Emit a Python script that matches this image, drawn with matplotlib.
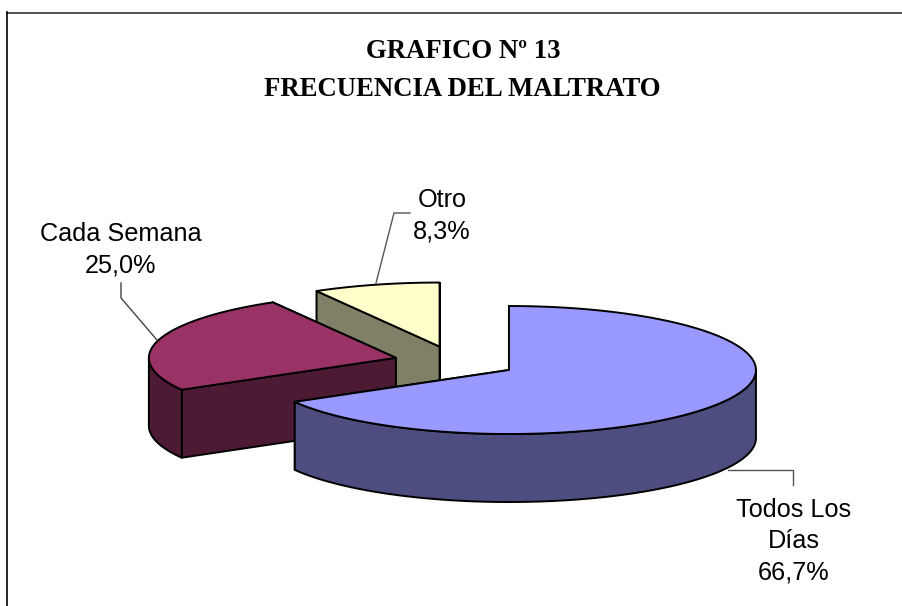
import numpy as np
import matplotlib
matplotlib.use("Agg")
import matplotlib.pyplot as plt
from matplotlib.patches import Polygon

# Slices, clockwise from 12 o'clock
categories = ["Todos Los\nDías", "Cada Semana", "Otro"]
values = [66.7, 25.0, 8.3]
percent_labels = ["66,7%", "25,0%", "8,3%"]
top_colors = ["#9999FF", "#993366", "#FFFFCC"]
side_colors = ["#4D4D80", "#4D1A33", "#808066"]

# pie geometry in pixels of the picture
cx, cy = 455.5, 362.0
rx, ry = 247.0, 64.0
depth = 68.0
explode = 0.25


def rim_point(center, angle):
    a = np.radians(angle)
    return np.column_stack((center[0] + rx * np.sin(a), center[1] - ry * np.cos(a)))


def draw_slice(ax, start, end, top_color, side_color):
    mid = np.radians((start + end) / 2)
    center = (cx + explode * rx * np.sin(mid), cy - explode * ry * np.cos(mid))
    down = np.array([0, depth])
    apex = np.array(center)

    # flat cut faces, the one further back first
    faces = []
    for ang in (start, end):
        p = rim_point(center, np.array([ang]))[0]
        faces.append(np.array([apex, p, p + down, apex + down]))
    faces.sort(key=lambda f: f[:, 1].mean())
    for f in faces:
        ax.add_patch(Polygon(f, closed=True, fc=side_color, ec="black", lw=1.4, joinstyle="round"))

    # curved side, only the part turned towards the viewer
    lo, hi = max(start, 90), min(end, 270)
    if hi > lo:
        arc = rim_point(center, np.linspace(lo, hi, 120))
        ax.add_patch(Polygon(np.vstack((arc, (arc + down)[::-1])), closed=True,
                             fc=side_color, ec="black", lw=1.4, joinstyle="round"))

    # top
    arc = rim_point(center, np.linspace(start, end, 200))
    ax.add_patch(Polygon(np.vstack((apex, arc)), closed=True,
                         fc=top_color, ec="black", lw=1.4, joinstyle="round"))


fig = plt.figure(figsize=(9.03, 6.06), dpi=100)
ax = fig.add_axes([0, 0, 1, 1])
ax.set_xlim(0, 903)
ax.set_ylim(606, 0)
ax.axis("off")

# chart frame: only the top and left sides are inside the picture
ax.plot([7.5, 903], [12.5, 12.5], color="#333333", lw=1.2)
ax.plot([7.5, 7.5], [12, 606], color="black", lw=1.2)

ends = np.cumsum(values) / sum(values) * 360
starts = np.concatenate(([0], ends[:-1]))

# back to front
for i in [2, 1, 0]:
    draw_slice(ax, starts[i], ends[i], top_colors[i], side_colors[i])

# leader lines
ax.plot([728, 793, 793], [470, 470, 485], color="#555555", lw=1)
ax.plot([157, 121, 121], [340, 298, 283], color="#444444", lw=1)
ax.plot([376, 394, 410], [283, 213, 213], color="#555555", lw=1)

serif = "Liberation Serif"
sans = "Liberation Sans"
ax.text(463, 52, "GRAFICO Nº 13", family=serif, weight="bold", fontsize=19.3,
        ha="center", va="center", color="black")
ax.text(462.5, 89, "FRECUENCIA DEL MALTRATO", family=serif, weight="bold", fontsize=19.3,
        ha="center", va="center", color="black")

label_pos = [(794, 541.5), (121, 250), (442, 216)]
for cat, pct, (x, y) in zip(categories, percent_labels, label_pos):
    ax.text(x, y, cat + "\n" + pct, family=sans, fontsize=18.2, ha="center", va="center",
            color="black", linespacing=1.37)

fig.savefig("out.png", dpi=100)
